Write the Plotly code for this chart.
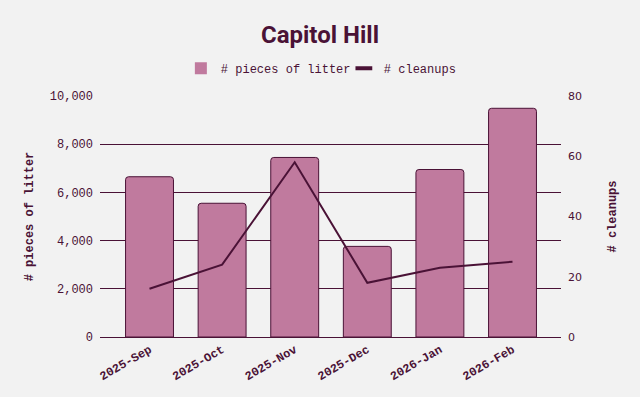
import plotly.graph_objects as go

months = ["2025-Sep", "2025-Oct", "2025-Nov", "2025-Dec", "2026-Jan", "2026-Feb"]
litter = [6650, 5550, 7450, 3760, 6950, 9490]
cleanups = [16, 24, 58, 18, 23, 25]

DARK = "#4a1236"
PINK = "#c07a9e"
BG = "#f2f2f2"
MONO = "Liberation Mono, Courier New, monospace"

fig = go.Figure()
fig.add_trace(go.Bar(
    x=months, y=litter, name="# pieces of litter", showlegend=False,
    marker=dict(color=PINK, line=dict(color=DARK, width=1), cornerradius=3),
    yaxis="y",
))
fig.add_trace(go.Scatter(
    x=months, y=cleanups, name="# cleanups", mode="lines", showlegend=False,
    line=dict(color=DARK, width=2), yaxis="y2",
))
# legend-only entries (no data drawn)
fig.add_trace(go.Scatter(
    x=[None], y=[None], name="# pieces of litter", mode="markers",
    marker=dict(symbol="square", size=12, color=PINK, line=dict(width=0)),
))
fig.add_trace(go.Scatter(
    x=[None], y=[None], name="# cleanups", mode="markers", yaxis="y2",
    marker=dict(symbol="line-ew", size=12, color=DARK, line=dict(width=4, color=DARK)),
))

fig.update_layout(
    width=640, height=397,
    paper_bgcolor=BG, plot_bgcolor=BG,
    margin=dict(l=100, r=79, t=96, b=60),
    bargap=0.34,
    title=dict(text="<b>Capitol Hill</b>", x=0.5, xanchor="center", y=0.912, yanchor="middle",
               font=dict(family="Roboto, sans-serif", size=24, color=DARK)),
    legend=dict(orientation="h", x=0.529, xanchor="center", y=1.115, yanchor="middle",
                font=dict(family=MONO, size=12, color=DARK), traceorder="normal",
                itemwidth=30, entrywidth=118, entrywidthmode="pixels"),
    xaxis=dict(
        range=[-0.682, 5.668], showgrid=False, showline=True, linecolor=DARK, linewidth=1,
        tickangle=-30, ticks="", automargin=False,
        tickfont=dict(family=MONO, size=12, color=DARK, weight="bold"),
    ),
    yaxis=dict(
        range=[0, 10000], dtick=2000, tickformat=",", showgrid=True, gridcolor=DARK, gridwidth=1,
        zeroline=False, ticks="", ticklabelstandoff=6, automargin=False,
        tickfont=dict(family=MONO, size=12, color=DARK),
        title=dict(text="<b># pieces of litter</b>", font=dict(family=MONO, size=12, color=DARK), standoff=13),
    ),
    yaxis2=dict(
        range=[0, 80], dtick=20, overlaying="y", side="right", showgrid=False, zeroline=False,
        ticks="", ticklabelstandoff=6, automargin=False,
        tickfont=dict(family="DejaVu Sans, sans-serif", size=11, color=DARK),
        title=dict(text="<b># cleanups</b>", font=dict(family=MONO, size=12, color=DARK), standoff=26),
    ),
)

fig.write_html("out.html", config={"displayModeBar": False},
               post_script="document.body.style.margin='0';document.body.style.background='%s';" % BG)
